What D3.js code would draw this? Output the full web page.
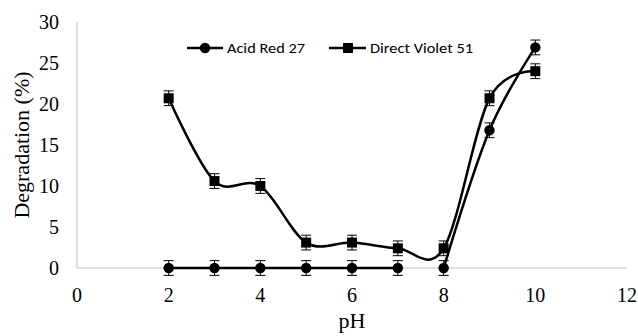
<!DOCTYPE html>
<html>
<head>
<meta charset="utf-8">
<script src="https://cdn.jsdelivr.net/npm/d3@7"></script>
<style>
  body { margin: 0; background: #fff; }
  svg { display: block; }
</style>
</head>
<body>
<svg id="chart" width="638" height="336"></svg>
<script>
// pH values tested
const phValues = [2, 3, 4, 5, 6, 7, 8, 9, 10];
// Degradation (%) per dye
const acidRed27 = [0, 0, 0, 0, 0, 0, 0, 16.8, 26.9];
const directViolet51 = [20.7, 10.6, 10.0, 3.1, 3.1, 2.4, 2.4, 20.7, 24.0];
// error bar half-widths
const acidRed27Err = [0.9, 0.9, 0.9, 0.9, 0.9, 0.9, 0.9, 0.9, 0.9];
const directViolet51Err = [0.9, 0.9, 0.9, 0.9, 0.9, 0.9, 0.9, 0.9, 0.9];
// Acid Red 27 line is drawn as two runs (pH 2–7 and pH 8–10)
const acidRedRuns = [[0, 5], [6, 8]];
const xTicks = [0, 2, 4, 6, 8, 10, 12];
const yTicks = [0, 5, 10, 15, 20, 25, 30];

const svg = d3.select("#chart");
const x = d3.scaleLinear().domain([0, 12]).range([77, 627]);
const y = d3.scaleLinear().domain([0, 30]).range([268, 22]);

// axes (no tick marks, grey lines)
svg.append("line").attr("x1", x(0)).attr("x2", x(0)).attr("y1", y(30)).attr("y2", y(0))
  .attr("stroke", "#bfbfbf").attr("stroke-width", 1);
svg.append("line").attr("x1", x(0)).attr("x2", x(12)).attr("y1", y(0)).attr("y2", y(0))
  .attr("stroke", "#bfbfbf").attr("stroke-width", 1);

const tickFont = "'Liberation Serif', 'Times New Roman', serif";
svg.append("g").selectAll("text").data(yTicks).join("text")
  .attr("x", 59).attr("y", d => y(d)).attr("dy", "0.35em")
  .attr("text-anchor", "end").attr("font-family", tickFont).attr("font-size", 20)
  .attr("fill", "#000").text(d => d);
svg.append("g").selectAll("text").data(xTicks).join("text")
  .attr("x", d => x(d)).attr("y", 295).attr("dy", "0.35em")
  .attr("text-anchor", "middle").attr("font-family", tickFont).attr("font-size", 20)
  .attr("fill", "#000").text(d => d);

svg.append("text").attr("transform", `translate(21,${(y(0) + y(30)) / 2}) rotate(-90)`)
  .attr("text-anchor", "middle").attr("dy", "0.35em")
  .attr("font-family", tickFont).attr("font-size", 22).text("Degradation (%)");
svg.append("text").attr("x", (x(0) + x(12)) / 2).attr("y", 320).attr("dy", "0.35em")
  .attr("text-anchor", "middle").attr("font-family", tickFont).attr("font-size", 22).text("pH");

const line = d3.line().x(d => x(d[0])).y(d => y(d[1])).curve(d3.curveCatmullRom.alpha(0));

function drawErrors(vals, errs) {
  const g = svg.append("g").attr("stroke", "#000").attr("stroke-width", 1);
  phValues.forEach((p, i) => {
    const cx = x(p), top = y(vals[i] + errs[i]), bot = y(vals[i] - errs[i]);
    g.append("line").attr("x1", cx).attr("x2", cx).attr("y1", top).attr("y2", bot);
    g.append("line").attr("x1", cx - 5).attr("x2", cx + 5).attr("y1", top).attr("y2", top);
    g.append("line").attr("x1", cx - 5).attr("x2", cx + 5).attr("y1", bot).attr("y2", bot);
  });
}

// Direct Violet 51
const dvPts = phValues.map((p, i) => [p, directViolet51[i]]);
svg.append("path").attr("d", line(dvPts)).attr("fill", "none")
  .attr("stroke", "#000").attr("stroke-width", 2.5);
drawErrors(directViolet51, directViolet51Err);
svg.append("g").selectAll("rect").data(dvPts).join("rect")
  .attr("x", d => x(d[0]) - 5).attr("y", d => y(d[1]) - 5)
  .attr("width", 10).attr("height", 10).attr("fill", "#000");

// Acid Red 27
const arPts = phValues.map((p, i) => [p, acidRed27[i]]);
acidRedRuns.forEach(([a, b]) => {
  svg.append("path").attr("d", line(arPts.slice(a, b + 1))).attr("fill", "none")
    .attr("stroke", "#000").attr("stroke-width", 2.5);
});
drawErrors(acidRed27, acidRed27Err);
svg.append("g").selectAll("circle").data(arPts).join("circle")
  .attr("cx", d => x(d[0])).attr("cy", d => y(d[1])).attr("r", 5.2).attr("fill", "#000");

// legend
const legFont = "Carlito, Lato, 'Open Sans', sans-serif";
const leg = svg.append("g");
leg.append("line").attr("x1", 187).attr("x2", 223).attr("y1", 48).attr("y2", 48)
  .attr("stroke", "#000").attr("stroke-width", 2.5);
leg.append("circle").attr("cx", 205).attr("cy", 48).attr("r", 5.2).attr("fill", "#000");
leg.append("text").attr("x", 227).attr("y", 48).attr("dy", "0.36em")
  .attr("font-family", legFont).attr("font-size", 15)
  .attr("textLength", 78).attr("lengthAdjust", "spacingAndGlyphs").text("Acid Red 27");
leg.append("line").attr("x1", 329).attr("x2", 366).attr("y1", 48).attr("y2", 48)
  .attr("stroke", "#000").attr("stroke-width", 2.5);
leg.append("rect").attr("x", 343).attr("y", 43).attr("width", 10).attr("height", 10).attr("fill", "#000");
leg.append("text").attr("x", 370).attr("y", 48).attr("dy", "0.36em")
  .attr("font-family", legFont).attr("font-size", 15)
  .attr("textLength", 103).attr("lengthAdjust", "spacingAndGlyphs").text("Direct Violet 51");
</script>
</body>
</html>
